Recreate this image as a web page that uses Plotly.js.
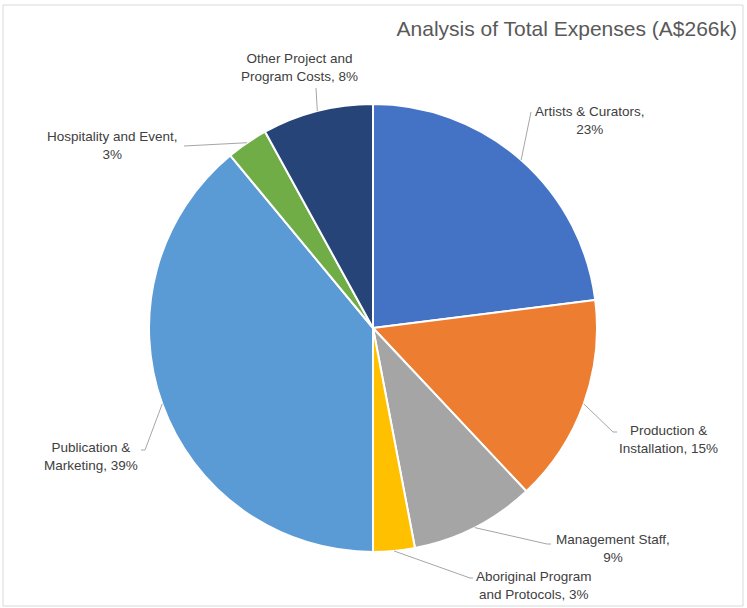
<!DOCTYPE html>
<html>
<head>
<meta charset="utf-8">
<script src="https://cdn.plot.ly/plotly-3.0.1.min.js"></script>
<style>html,body{margin:0;padding:0;background:#fff;}#chart{width:747px;height:608px;}</style>
</head>
<body>
<div id="chart"></div>
<script>
// ---- data ----
var categories = ["Artists & Curators", "Production & Installation", "Management Staff",
  "Aboriginal Program and Protocols", "Publication & Marketing", "Hospitality and Event",
  "Other Project and Program Costs"];
var shares = [23, 15, 9, 3, 39, 3, 8];
var labelLines = [
  ["Artists & Curators,", "23%"],
  ["Production &", "Installation, 15%"],
  ["Management Staff,", "9%"],
  ["Aboriginal Program", "and Protocols, 3%"],
  ["Publication &", "Marketing, 39%"],
  ["Hospitality and Event,", "3%"],
  ["Other Project and", "Program Costs, 8%"]
];
var chartTitle = "Analysis of Total Expenses (A$266k)";

// ---- styling / layout ----
var W = 747, H = 608;
var colors = ["#4472C4", "#ED7D31", "#A5A5A5", "#FFC000", "#5B9BD5", "#70AD47", "#264478"];
var cx = 373, cy = 328, R = 224;
// label text centre and leader-line end (pixels)
var labelPos = [
  {tx: 590, ty: 120, lx: 531, ly: 112, hx: 531},
  {tx: 668, ty: 439, lx: 613, ly: 432, hx: 617},
  {tx: 613, ty: 548, lx: 547, ly: 544, hx: 551},
  {tx: 534, ty: 585, lx: 470, ly: 578, hx: 473},
  {tx: 91,  ty: 456, lx: 145, ly: 450, hx: 141},
  {tx: 112, ty: 146, lx: 184, ly: 146, hx: 184},
  {tx: 299, ty: 67,  lx: 316, ly: 88,  hx: 316}
];

function px(x) { return x / W; }
function py(y) { return 1 - y / H; }

var total = shares.reduce(function (a, b) { return a + b; }, 0);
var annotations = [], shapes = [];
var cum = 0;
for (var i = 0; i < shares.length; i++) {
  var mid = (cum + shares[i] / 2) / total * 2 * Math.PI;
  cum += shares[i];
  var ex = cx + R * Math.sin(mid), ey = cy - R * Math.cos(mid);
  var p = labelPos[i];
  shapes.push({type: "path", xref: "paper", yref: "paper",
    path: "M " + px(ex) + " " + py(ey) + " L " + px(p.lx) + " " + py(p.ly) + " L " + px(p.hx) + " " + py(p.ly),
    line: {color: "#A6A6A6", width: 1}});
  annotations.push({xref: "paper", yref: "paper", x: px(p.tx), y: py(p.ty),
    xanchor: "center", yanchor: "middle", showarrow: false,
    text: labelLines[i].join("<br>"), align: "center",
    font: {family: "Liberation Sans, Arial, sans-serif", size: 13.5, color: "#404040"}});
}
shapes.push({type: "rect", xref: "paper", yref: "paper", x0: px(3), x1: px(743), y0: py(606), y1: py(5),
  line: {color: "#D9D9D9", width: 1}, layer: "below"});

var trace = {
  type: "pie",
  labels: categories,
  values: shares,
  sort: false,
  direction: "clockwise",
  rotation: 0,
  textinfo: "none",
  hoverinfo: "label+percent",
  marker: {colors: colors, line: {color: "#FFFFFF", width: 2}},
  domain: {x: [px(cx - R), px(cx + R)], y: [py(cy + R), py(cy - R)]},
  showlegend: false
};

var layout = {
  width: W, height: H,
  margin: {l: 0, r: 0, t: 0, b: 0},
  paper_bgcolor: "#FFFFFF",
  showlegend: false,
  title: {text: chartTitle, x: px(737), xanchor: "right", y: py(29), yanchor: "middle",
    font: {family: "Liberation Sans, Arial, sans-serif", size: 21, color: "#595959"}},
  annotations: annotations,
  shapes: shapes
};

Plotly.newPlot("chart", [trace], layout, {displayModeBar: false, staticPlot: true});
</script>
</body>
</html>
